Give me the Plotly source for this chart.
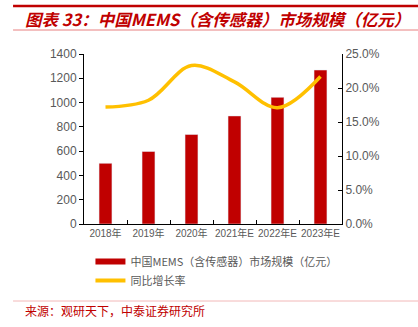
import plotly.graph_objects as go

categories = ["2018年", "2019年", "2020年", "2021年E", "2022年E", "2023年E"]
market_size = [500, 597, 737, 890, 1043, 1268]
growth_rate = [17.2, 18.2, 23.3, 20.9, 17.1, 21.7]

bar_name = "中国MEMS（含传感器）市场规模（亿元）"
line_name = "同比增长率"
title_text = "图表 33：中国MEMS（含传感器）市场规模（亿元）"
source_text = "来源：观研天下，中泰证券研究所"

RED = "#C00000"
YELLOW = "#FFC000"
GRAY = "#595959"
FONT = "Liberation Sans, Noto Sans CJK SC, sans-serif"

fig = go.Figure()
fig.add_trace(go.Bar(x=categories, y=market_size, marker_color=RED, width=0.3,
                     showlegend=False, yaxis="y"))
fig.add_trace(go.Scatter(x=categories, y=growth_rate, mode="lines",
                         line=dict(color=YELLOW, width=3.5, shape="spline", smoothing=1.0),
                         showlegend=False, yaxis="y2"))
# legend entries
fig.add_trace(go.Scatter(x=[None], y=[None], mode="lines", name=bar_name,
                         line=dict(color=RED, width=6)))
fig.add_trace(go.Scatter(x=[None], y=[None], mode="lines", name=line_name,
                         line=dict(color=YELLOW, width=4)))

fig.update_layout(
    width=418, height=327,
    margin=dict(l=84, r=76, t=54, b=103),
    plot_bgcolor="white", paper_bgcolor="white",
    font=dict(family=FONT, color=GRAY, size=12),
    bargap=0.7,
    xaxis=dict(showline=True, linecolor="black", linewidth=1, tickangle=0,
               ticks="inside", tickson="boundaries", ticklen=4, tickcolor="black",
               tickfont=dict(size=10, color=GRAY), showgrid=False),
    yaxis=dict(range=[0, 1400], dtick=200, showline=True, linecolor="black", linewidth=1,
               ticks="outside", ticklen=4, tickcolor="black", showgrid=False, zeroline=False,
               tickfont=dict(size=12, color=GRAY)),
    yaxis2=dict(range=[0, 25], dtick=5, overlaying="y", side="right",
                showline=True, linecolor="black", linewidth=1,
                ticks="inside", ticklen=4, tickcolor="black", showgrid=False, zeroline=False,
                tickformat=".1f", ticksuffix="%", tickfont=dict(size=12, color=GRAY)),
    legend=dict(x=0.025, y=-0.135, xanchor="left", yanchor="top",
                font=dict(size=11, color=GRAY, family="Noto Sans CJK SC"),
                bgcolor="rgba(0,0,0,0)", tracegroupgap=0),
    shapes=[
        dict(type="line", xref="paper", yref="paper", x0=-0.275, x1=1.3,
             y0=1 + (54 - 6) / 170, y1=1 + (54 - 6) / 170,
             line=dict(color=RED, width=2.5)),
        dict(type="line", xref="paper", yref="paper", x0=-0.275, x1=1.3,
             y0=1 + (54 - 30) / 170, y1=1 + (54 - 30) / 170,
             line=dict(color="#E88080", width=1)),
        dict(type="line", xref="paper", yref="paper", x0=-0.275, x1=1.3,
             y0=(224 - 301) / 170, y1=(224 - 301) / 170,
             line=dict(color="#F2B8B8", width=1)),
    ],
    annotations=[
        dict(text="<b><i>" + title_text + "</i></b>", xref="paper", yref="paper",
             x=(23 - 84) / 258, y=1 + (54 - 19) / 170, xanchor="left", yanchor="middle",
             showarrow=False, font=dict(size=16.5, color=RED, family="Noto Sans CJK SC")),
        dict(text=source_text, xref="paper", yref="paper",
             x=(23 - 84) / 258, y=(224 - 310) / 170, xanchor="left", yanchor="middle",
             showarrow=False, font=dict(size=12, color=RED, family="Noto Sans CJK SC")),
    ],
)

fig.write_html("out.html")
